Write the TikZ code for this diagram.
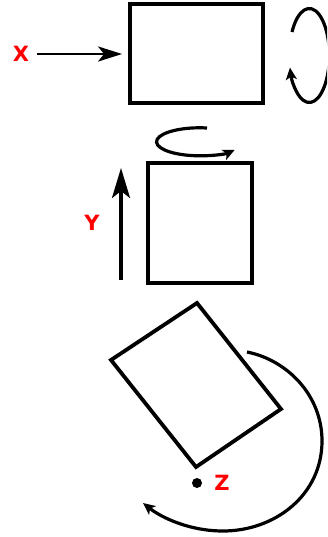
\documentclass[tikz,border=0pt]{standalone}
\usepackage{fontspec}
\setmainfont{DejaVu Sans}
\usetikzlibrary{arrows.meta}
\begin{document}
\begin{tikzpicture}[x=1pt,y=-1pt,
  box/.style={draw=black,line width=3.8pt},
  arr/.style={draw=black,line width=3.2pt,-{Stealth[length=12pt,width=11pt,inset=3pt]}},
  bigarr/.style={draw=black,line width=2.8pt,-{Stealth[length=24pt,width=15pt,inset=6pt]}},
  lbl/.style={text=red,font=\fontsize{21}{21}\selectfont\bfseries,inner sep=0pt}]
\useasboundingbox (0,0) rectangle (327,537);
\clip (0,0) rectangle (327,537);
% top
\node[box,minimum width=133pt,minimum height=99pt,inner sep=0pt] (r1) at (196.5,53.5) {};
\node[lbl] (x) at (21,54) {X};
\coordinate (xs) at (37,54);
\draw[bigarr,shorten >=6pt] (xs) -- (xs -| r1.west);
\draw[arr] (292,32) arc[start angle=150,end angle=-165,x radius=20,y radius=-47];
% middle
\node[box,minimum width=104pt,minimum height=120pt,inner sep=0pt] (r2) at (200,223) {};
\node[lbl] (y) at (92,223) {Y};
\coordinate (ys) at (121,280);
\coordinate (ye) at (121,168);
\draw[bigarr,line width=3.2pt,-{Stealth[length=30pt,width=18pt,inset=7pt]}] (ys) -- (ye);
\draw[arr] (207,128) arc[start angle=80,end angle=325,x radius=43,y radius=-14];
% bottom
\coordinate (c1) at (197,303);
\coordinate (c2) at (281,409);
\coordinate (c3) at (196,467);
\coordinate (c4) at (111,360);
\draw[box,line join=miter] (c1) -- (c2) -- (c3) -- (c4) -- cycle;
\fill (197,483) circle[radius=5pt] coordinate (z0);
\node[lbl] (z) at (222,483) {Z};
\draw[arr] (247,352) .. controls (287,360) and (322,395) .. (322,441)
  .. controls (322,495) and (275,531) .. (223,531)
  .. controls (190,531) and (162,518) .. (143,503);
\end{tikzpicture}
\end{document}
